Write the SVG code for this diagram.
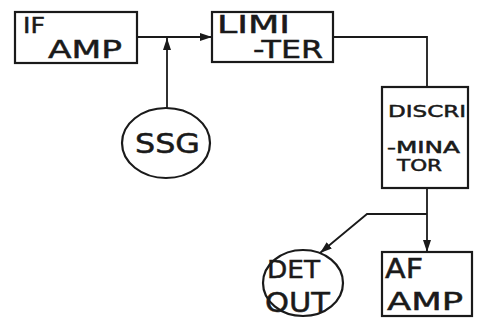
<svg xmlns="http://www.w3.org/2000/svg" width="477" height="326" viewBox="0 0 477 326">
<defs>
<style>
.box{fill:none;stroke:#1a1a1a;stroke-width:2.2}
.ln{fill:none;stroke:#1a1a1a;stroke-width:1.8}
.t{font-family:"DejaVu Sans","Liberation Sans",sans-serif;fill:#1a1a1a;stroke:#1a1a1a;stroke-width:0.5;font-weight:normal}
</style>
<marker id="ah" viewBox="0 0 12 8" refX="12" refY="4" markerWidth="12" markerHeight="8" markerUnits="userSpaceOnUse" orient="auto">
<path d="M0,0 L12,4 L0,8 z" fill="#1a1a1a"/>
</marker>
</defs>
<rect width="477" height="326" fill="#fff"/>
<g id="connectors">
<line class="ln" x1="137" y1="37" x2="212" y2="37" marker-end="url(#ah)"/>
<line class="ln" x1="167" y1="108" x2="167" y2="38" marker-end="url(#ah)"/>
<polyline class="ln" points="333,37 427,37 427,87"/>
<line class="ln" x1="427" y1="188" x2="427" y2="252" marker-end="url(#ah)"/>
<polyline class="ln" points="427,214 367,214 320,253" marker-end="url(#ah)"/>
</g>
<g id="if-amp">
<rect class="box" x="15" y="12" width="122" height="51"/>
<text class="t" x="23" y="33" font-size="22" textLength="22" lengthAdjust="spacingAndGlyphs">IF</text>
<text class="t" x="48" y="58" font-size="25" textLength="74" lengthAdjust="spacingAndGlyphs">AMP</text>
</g>
<g id="limiter">
<rect class="box" x="212" y="12" width="121" height="50"/>
<text class="t" x="217" y="33" font-size="25" textLength="73" lengthAdjust="spacingAndGlyphs">LIMI</text>
<text class="t" x="253" y="58" font-size="25" textLength="70" lengthAdjust="spacingAndGlyphs">-TER</text>
</g>
<g id="ssg">
<ellipse class="box" cx="166" cy="143" rx="44" ry="35"/>
<text class="t" x="135" y="153" font-size="27" textLength="65" lengthAdjust="spacingAndGlyphs">SSG</text>
</g>
<g id="discriminator">
<rect class="box" x="382" y="87" width="86" height="101"/>
<text class="t" x="388" y="117" font-size="16" font-weight="bold" textLength="78" lengthAdjust="spacingAndGlyphs">DISCRI</text>
<text class="t" x="387" y="153" font-size="15" textLength="73" lengthAdjust="spacingAndGlyphs">-MINA</text>
<text class="t" x="397" y="171" font-size="15" textLength="45" lengthAdjust="spacingAndGlyphs">TOR</text>
</g>
<g id="det-out">
<ellipse class="box" cx="303" cy="283" rx="40" ry="33"/>
<text class="t" x="267" y="278" font-size="25" textLength="53" lengthAdjust="spacingAndGlyphs">DET</text>
<text class="t" x="265" y="312" font-size="27" textLength="65" lengthAdjust="spacingAndGlyphs">OUT</text>
</g>
<g id="af-amp">
<rect class="box" x="382" y="252" width="90" height="64"/>
<text class="t" x="385" y="278" font-size="27" textLength="38" lengthAdjust="spacingAndGlyphs">AF</text>
<text class="t" x="387" y="310" font-size="25" textLength="76" lengthAdjust="spacingAndGlyphs">AMP</text>
</g>
</svg>
